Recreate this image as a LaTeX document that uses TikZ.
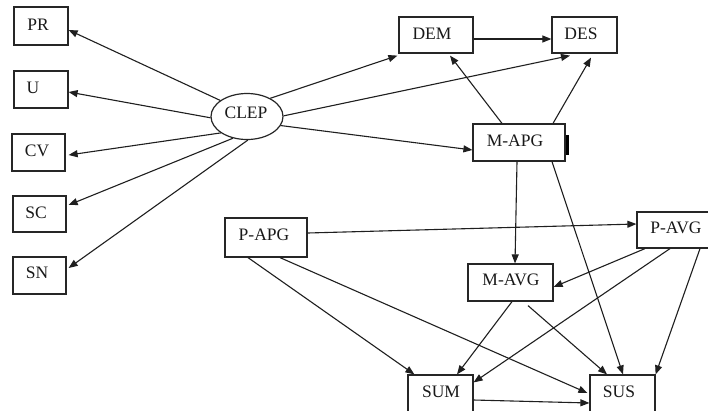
\documentclass[tikz,border=0pt]{standalone}
\usepackage{fontspec}
\setmainfont{Liberation Serif}
\usetikzlibrary{arrows.meta,shapes.geometric}
\begin{document}
\begin{tikzpicture}[x=1bp,y=-1bp,
  box/.style={draw=black!85,line width=1.2bp,inner sep=0pt,rectangle},
  oval/.style={draw=black!85,line width=1.2bp,inner sep=0pt,ellipse},
  lbl/.style={anchor=base,inner sep=0pt,font=\fontsize{17.5bp}{20bp}\selectfont,text=black!90},
  arr/.style={draw=black!88,line width=1.1bp,-{Triangle[length=9bp,width=7bp]}}]
\useasboundingbox (0,0) rectangle (708,410);
\fill[white] (0,0) rectangle (708,410);
\clip (0,0) rectangle (708,410);
% boxes
\node[box,minimum width=54bp,minimum height=38bp] (PR) at (41,26) {};
\node[box,minimum width=54bp,minimum height=37bp] (U) at (41,89.5) {};
\node[box,minimum width=53bp,minimum height=37bp] (CV) at (38.5,152.5) {};
\node[box,minimum width=53bp,minimum height=36bp] (SC) at (39.5,214) {};
\node[box,minimum width=53bp,minimum height=37bp] (SN) at (39.5,275.5) {};
\node[oval,minimum width=72bp,minimum height=46bp] (CLEP) at (247,116.5) {};
\node[box,minimum width=74bp,minimum height=36bp] (DEM) at (436,35) {};
\node[box,minimum width=65bp,minimum height=36bp] (DES) at (584.5,35) {};
\node[box,minimum width=92bp,minimum height=37bp] (MAPG) at (519,142.5) {};
\node[box,minimum width=82bp,minimum height=39bp] (PAPG) at (266,237.5) {};
\node[box,minimum width=83bp,minimum height=36bp] (PAVG) at (678.5,230) {};
\node[box,minimum width=85bp,minimum height=37bp] (MAVG) at (510.5,282.5) {};
\node[box,minimum width=65bp,minimum height=45bp] (SUM) at (440.5,397.5) {};
\node[box,minimum width=65bp,minimum height=45bp] (SUS) at (622.5,397.5) {};
% small dark bar on the right edge of M-APG
\fill[black] ([shift={(0,-7.5)}]MAPG.east) rectangle ([shift={(3,12.5)}]MAPG.east);
% labels
\node[lbl] (tPR) at (38,30) {PR};
\node[lbl] (tU) at (33,93) {U};
\node[lbl] (tCV) at (37,156) {CV};
\node[lbl] (tSC) at (36,218) {SC};
\node[lbl] (tSN) at (37,278) {SN};
\node[lbl] (tCLEP) at (246,118) {CLEP};
\node[lbl] (tDEM) at (432,39) {DEM};
\node[lbl] (tDES) at (581,39) {DES};
\node[lbl] (tMAPG) at (515,146) {M-APG};
\node[lbl] (tPAPG) at (264,240) {P-APG};
\node[lbl] (tPAVG) at (676,233) {P-AVG};
\node[lbl] (tMAVG) at (511,285) {M-AVG};
\node[lbl] (tSUM) at (441,397) {SUM};
\node[lbl] (tSUS) at (619,397) {SUS};
% connectors from CLEP
\draw[arr] (CLEP.149) -- ([shift={(0,4)}]PR.east);
\draw[arr] (CLEP.182) -- ([shift={(0,2.5)}]U.east);
\draw[arr] (CLEP.212) -- ([shift={(3,2.5)}]CV.east);
\draw[arr] (CLEP.237) -- ([shift={(2,-9)}]SC.east);
\draw[arr] (CLEP.272) -- ([shift={(2,-7.5)}]SN.east);
\draw[arr] (CLEP.38) -- ([shift={(-1,2)}]DEM.south west);
\draw[arr] (CLEP.1) -- ([shift={(-14.5,2)}]DES.south);
\draw[arr] (CLEP.345) -- ([shift={(0,7.5)}]MAPG.west);
% upper group
\draw[arr] ([shift={(0,4)}]DEM.east) -- ([shift={(0,4)}]DES.west);
\draw[arr] ([shift={(-17,0)}]MAPG.north) -- ([shift={(14,2)}]DEM.south);
\draw[arr] ([shift={(34,0)}]MAPG.north) -- ([shift={(6.5,4)}]DES.south);
\draw[arr] ([shift={(-2,0)}]MAPG.south) -- ([shift={(4.5,0)}]MAVG.north);
\draw[arr] ([shift={(33,0)}]MAPG.south) -- ([shift={(0.5,0)}]SUS.north);
% lower group
\draw[arr] ([shift={(0,-4.5)}]PAPG.east) -- ([shift={(0,-6)}]PAVG.west);
\draw[arr] ([shift={(-33.5,0)}]PAVG.south) -- ([shift={(0,4.5)}]MAVG.east);
\draw[arr] ([shift={(-8.5,0)}]PAVG.south) -- ([shift={(0,8)}]SUM.north east);
\draw[arr] ([shift={(21.5,0)}]PAVG.south) -- (SUS.north east);
\draw[arr] ([shift={(1.5,0)}]MAVG.south) -- ([shift={(16.5,0)}]SUM.north);
\draw[arr] ([shift={(17.5,4)}]MAVG.south) -- ([shift={(-15.5,0)}]SUS.north);
\draw[arr] ([shift={(-18,0)}]PAPG.south) -- ([shift={(7,0)}]SUM.north west);
\draw[arr] ([shift={(14,0)}]PAPG.south) -- ([shift={(-2,-4.5)}]SUS.west);
\draw[arr] ([shift={(0,2.5)}]SUM.east) -- ([shift={(0,5.5)}]SUS.west);
\end{tikzpicture}
\end{document}
